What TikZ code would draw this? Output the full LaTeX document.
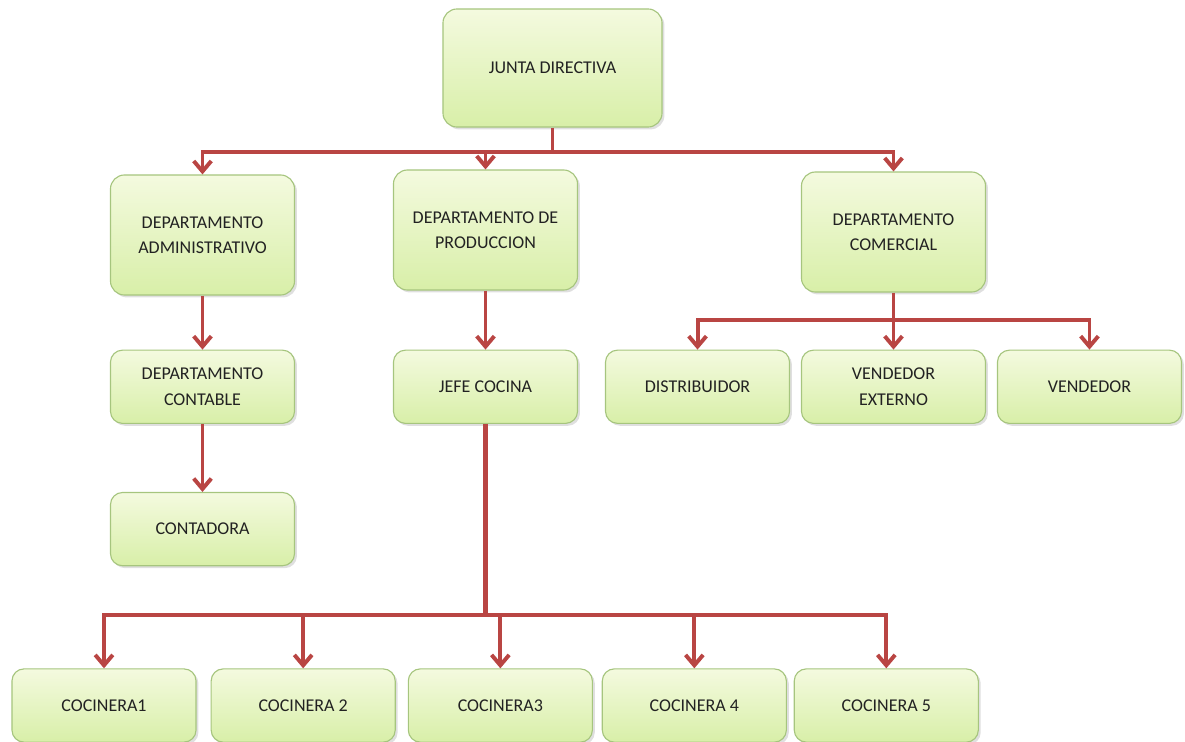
\documentclass[tikz,border=0pt]{standalone}
\usepackage{fontspec}
\setmainfont{Carlito}
\usepackage{tikz}
\usetikzlibrary{shadows, positioning}
\usetikzlibrary{arrows.meta}
\tikzset{>={Straight Barb[length=2.6mm,width=4.4mm]}}
\definecolor{boxtop}{HTML}{F4FADF}
\definecolor{boxbot}{HTML}{D8EFA8}
\definecolor{boxline}{HTML}{A6C57E}
\definecolor{linkred}{HTML}{B94543}
\definecolor{textgray}{HTML}{222222}

\begin{document}
\begin{tikzpicture}[x=0.025cm, y=-0.025cm, bigbox/.style={rectangle, rounded corners=3.5mm, draw=boxline, thick, top color=boxtop, bottom color=boxbot, drop shadow={opacity=0.25, shadow xshift=0.6mm, shadow yshift=-0.6mm}, minimum width=4.6cm, minimum height=3cm, align=center, text=textgray, font=\fontsize{12.8}{18}\selectfont}, smallbox/.style={bigbox, rounded corners=3mm, minimum height=1.83cm}, link/.style={draw=linkred, line width=2.8pt}]

    \path[use as bounding box] (0,0) rectangle (1185,742);

    %Nodes
    \node[bigbox, minimum width=5.475cm, minimum height=2.95cm](junta) at (552.5,68){JUNTA DIRECTIVA};
    \node[bigbox](admin) at (202.5,235){DEPARTAMENTO\\ADMINISTRATIVO};
    \node[bigbox](produccion) at (485.5,230){DEPARTAMENTO DE\\PRODUCCION};
    \node[bigbox](comercial) at (893.5,232){DEPARTAMENTO\\COMERCIAL};
    \node[smallbox](contable)[below=1.35cm of admin]{DEPARTAMENTO\\CONTABLE};
    \node[smallbox](contadora)[below=1.7cm of contable]{CONTADORA};
    \node[smallbox](jefe)[below=1.475cm of produccion]{JEFE COCINA};
    \node[smallbox](vendext)[below=1.425cm of comercial]{VENDEDOR\\EXTERNO};
    \node[smallbox](distribuidor)[left=0.27cm of vendext]{DISTRIBUIDOR};
    \node[smallbox](vendedor)[right=0.27cm of vendext]{VENDEDOR};
    \node[smallbox](cocinera1) at (104,705.5){COCINERA1};
    \node[smallbox](cocinera2)[right=0.35cm of cocinera1]{COCINERA 2};
    \node[smallbox](cocinera3)[right=0.3cm of cocinera2]{COCINERA3};
    \node[smallbox](cocinera4)[right=0.22cm of cocinera3]{COCINERA 4};
    \node[smallbox](cocinera5)[right=0.17cm of cocinera4]{COCINERA 5};

    %Lines
    \coordinate (topbus) at (552.5,152);
    \coordinate (combus) at (893.5,320);
    \coordinate (cocbus) at (485.5,615);
    \draw[link] (junta.south) -- (topbus);
    \draw[link, ->] (topbus) -| (admin.north);
    \draw[link, ->] (topbus) -| (produccion.north);
    \draw[link, ->] (topbus) -| (comercial.north);
    \draw[link, ->] (admin.south) -- (contable.north);
    \draw[link, ->] (contable.south) -- (contadora.north);
    \draw[link, ->] (produccion.south) -- (jefe.north);
    \draw[link] (comercial.south) -- (combus);
    \draw[link, ->] (combus) -| (distribuidor.north);
    \draw[link, ->] (combus) -- (vendext.north);
    \draw[link, ->] (combus) -| (vendedor.north);
    \draw[link, line width=4pt] (jefe.south) -- (cocbus);
    \draw[link, ->] (cocbus) -| (cocinera1.north);
    \draw[link, ->] (cocbus) -| (cocinera2.north);
    \draw[link, ->] (cocbus) -| (cocinera3.north);
    \draw[link, ->] (cocbus) -| (cocinera4.north);
    \draw[link, ->] (cocbus) -| (cocinera5.north);

\end{tikzpicture}
\end{document}
